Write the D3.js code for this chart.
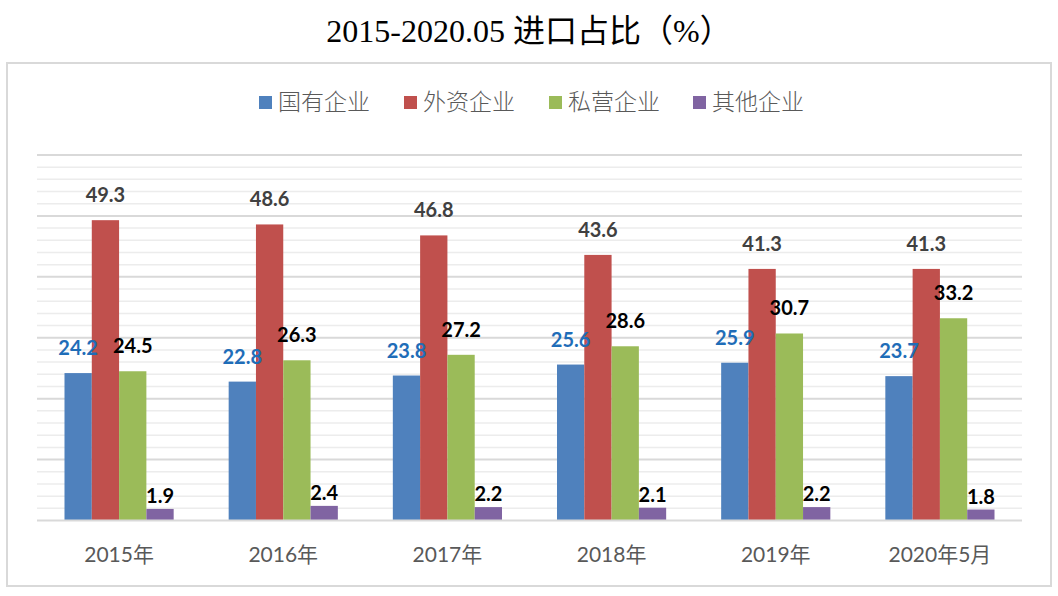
<!DOCTYPE html>
<html>
<head>
<meta charset="utf-8">
<script src="https://cdn.jsdelivr.net/npm/d3@7"></script>
<style>
  html, body { margin: 0; padding: 0; background: #fff; }
  svg { display: block; }
</style>
</head>
<body>
<svg id="chart" width="1058" height="596"></svg>
<script>
const title = "2015-2020.05 进口占比（%）";
const categories = ["2015年", "2016年", "2017年", "2018年", "2019年", "2020年5月"];
const seriesNames = ["国有企业", "外资企业", "私营企业", "其他企业"];
const stateOwned = [24.2, 22.8, 23.8, 25.6, 25.9, 23.7];
const foreignFunded = [49.3, 48.6, 46.8, 43.6, 41.3, 41.3];
const privateOwned = [24.5, 26.3, 27.2, 28.6, 30.7, 33.2];
const others = [1.9, 2.4, 2.2, 2.1, 2.2, 1.8];
const yMax = 60;
const minorStep = 2;
const majorStep = 10;

const seriesValues = [stateOwned, foreignFunded, privateOwned, others];
const colors = ["#4F81BD", "#C0504D", "#9BBB59", "#8064A2"];
const labelColors = ["#1F6DB8", "#404040", "#000000", "#000000"];
const labelGap = [18, 18, 18, 6];

const svg = d3.select("#chart");
const W = 1058, H = 596;

// outer border
svg.append("rect")
  .attr("x", 7).attr("y", 63).attr("width", 1044).attr("height", 523)
  .attr("fill", "#fff").attr("stroke", "#d9d9d9").attr("stroke-width", 2);

// title
svg.append("text")
  .attr("x", W / 2).attr("y", 42)
  .attr("text-anchor", "middle")
  .attr("font-family", "'Liberation Serif', 'Noto Sans CJK SC', serif")
  .attr("font-size", 32)
  .attr("font-weight", 400)
  .attr("fill", "#000")
  .text(title);

const plot = { left: 37, right: 1022, top: 155, bottom: 520.5 };

const x0 = d3.scaleBand()
  .domain(categories)
  .range([plot.left, plot.right])
  .paddingInner(0.335)
  .paddingOuter(0.1675);

const x1 = d3.scaleBand()
  .domain(d3.range(seriesNames.length))
  .range([0, x0.bandwidth()])
  .padding(0);

const y = d3.scaleLinear().domain([0, yMax]).range([plot.bottom, plot.top]);

// gridlines
const minorTicks = d3.range(0, yMax + 0.001, minorStep).filter(v => v % majorStep !== 0);
const majorTicks = d3.range(majorStep, yMax + 0.001, majorStep);
svg.append("g").selectAll("line").data(minorTicks).join("line")
  .attr("x1", plot.left).attr("x2", plot.right)
  .attr("y1", d => y(d)).attr("y2", d => y(d))
  .attr("stroke", "#ececec").attr("stroke-width", 1.5);
svg.append("g").selectAll("line").data(majorTicks).join("line")
  .attr("x1", plot.left).attr("x2", plot.right)
  .attr("y1", d => y(d)).attr("y2", d => y(d))
  .attr("stroke", "#d9d9d9").attr("stroke-width", 2);

// bars
const barData = [];
categories.forEach((c, ci) => {
  seriesValues.forEach((vals, si) => {
    barData.push({ cat: c, s: si, v: vals[ci] });
  });
});

svg.append("g").selectAll("rect").data(barData).join("rect")
  .attr("x", d => x0(d.cat) + x1(d.s))
  .attr("y", d => y(d.v))
  .attr("width", x1.bandwidth())
  .attr("height", d => y(0) - y(d.v))
  .attr("fill", d => colors[d.s]);

// baseline axis
const xAxis = d3.axisBottom(x0).tickSize(0).tickPadding(0);
const axisG = svg.append("g").attr("transform", `translate(0,${plot.bottom})`).call(xAxis);
axisG.select(".domain").attr("stroke", "#d9d9d9").attr("stroke-width", 2)
  .attr("d", `M${plot.left},0H${plot.right}`);
axisG.selectAll(".tick text")
  .attr("y", 41)
  .attr("dy", 0)
  .attr("font-family", "Lato, 'Noto Sans CJK SC', sans-serif")
  .attr("font-size", 21)
  .attr("fill", "#595959");

// value labels
svg.append("g").selectAll("text").data(barData).join("text")
  .attr("x", d => x0(d.cat) + x1(d.s) + x1.bandwidth() / 2)
  .attr("y", d => y(d.v) - labelGap[d.s])
  .attr("text-anchor", "middle")
  .attr("font-family", "Lato, 'Open Sans', sans-serif")
  .attr("font-weight", 700)
  .attr("font-size", 20)
  .attr("fill", d => labelColors[d.s])
  .text(d => d.v.toFixed(1));

// legend
const legendX = [259, 404, 549, 693];
const lg = svg.append("g");
seriesNames.forEach((n, i) => {
  lg.append("rect")
    .attr("x", legendX[i]).attr("y", 96).attr("width", 13).attr("height", 13)
    .attr("fill", colors[i]);
  lg.append("text")
    .attr("x", legendX[i] + 19).attr("y", 110)
    .attr("font-family", "'Noto Sans CJK SC', sans-serif")
    .attr("font-size", 23)
    .attr("font-weight", 300)
    .attr("fill", "#595959")
    .text(n);
});
</script>
</body>
</html>
